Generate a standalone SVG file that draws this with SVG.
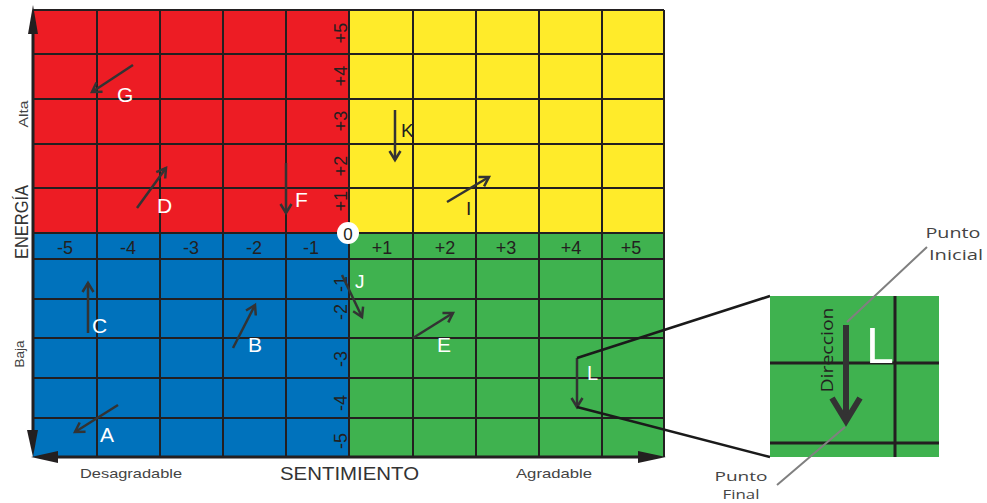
<svg xmlns="http://www.w3.org/2000/svg" width="987" height="503" viewBox="0 0 987 503">
<style>
.grid{stroke:#231f20;stroke-width:2;fill:none}
.axis{stroke:#231f20;stroke-width:3;fill:none}
.arr{stroke:#333;stroke-width:2.5;fill:none;marker-end:url(#head)}
.num{font-family:"Liberation Sans",Arial,sans-serif;font-size:18px;fill:#231f20;text-anchor:middle}
.lbl{font-family:"Liberation Sans",Arial,sans-serif;font-size:21px;fill:#fff}
.dk{fill:#231f20}
.small{font-family:"Liberation Sans",Arial,sans-serif;font-size:13px;fill:#444}
.big{font-family:"Liberation Sans",Arial,sans-serif;font-size:19px;fill:#333}
.note{font-family:"Open Sans","Liberation Sans",sans-serif;font-size:15px;fill:#444}
.note2{font-family:"Open Sans","Liberation Sans",sans-serif;font-size:13px;fill:#444}
</style>
<defs>
<marker id="head" markerUnits="userSpaceOnUse" markerWidth="14" markerHeight="14" refX="11" refY="7" orient="auto" viewBox="0 0 14 14">
<path d="M2,1.5 L11,7 L2,12.5" fill="none" stroke="#333" stroke-width="2.5"/>
</marker>
</defs>
<rect width="987" height="503" fill="#fff"/>
<g id="quadrants">
<rect x="33" y="10" width="316" height="223" fill="#ed1c24"/>
<rect x="349" y="10" width="315" height="223" fill="#ffeb2a"/>
<rect x="33" y="233" width="316" height="224" fill="#0072bc"/>
<rect x="349" y="233" width="315" height="224" fill="#3fb24f"/>
</g>
<g id="grid" class="grid">
<path d="M33,10H664M33,54H664M33,99H664M33,144H664M33,188H664M33,233H664M33,259H664M33,299H664M33,338H664M33,378H664M33,418H664"/>
<path d="M97,10V457M160,10V457M223,10V457M286,10V457M349,10V457M413,10V457M476,10V457M539,10V457M602,10V457M664,10V457"/>
</g>
<g id="axes">
<path class="axis" d="M33,28V440M50,457H646"/>
<polygon points="33,5 28,34 38,34" fill="#231f20"/>
<polygon points="33,457 27,430 38,430" fill="#231f20"/>
<polygon points="31,457 58,451 58,463" fill="#231f20"/>
<polygon points="666,457 638,451 638,463" fill="#231f20"/>
</g>
<g id="axis-numbers">
<text class="num" x="65" y="254">-5</text>
<text class="num" x="128" y="254">-4</text>
<text class="num" x="191" y="254">-3</text>
<text class="num" x="254" y="254">-2</text>
<text class="num" x="311" y="254">-1</text>
<text class="num" x="382" y="254">+1</text>
<text class="num" x="445" y="254">+2</text>
<text class="num" x="506" y="254">+3</text>
<text class="num" x="571" y="254">+4</text>
<text class="num" x="631" y="254">+5</text>
<text class="num" transform="translate(347,33) rotate(-90)">+5</text>
<text class="num" transform="translate(347,76) rotate(-90)">+4</text>
<text class="num" transform="translate(347,121) rotate(-90)">+3</text>
<text class="num" transform="translate(347,166) rotate(-90)">+2</text>
<text class="num" transform="translate(347,201) rotate(-90)">+1</text>
<text class="num" transform="translate(347,284) rotate(-90)">-1</text>
<text class="num" transform="translate(347,312) rotate(-90)">-2</text>
<text class="num" transform="translate(347,359) rotate(-90)">-3</text>
<text class="num" transform="translate(347,403) rotate(-90)">-4</text>
<text class="num" transform="translate(347,441) rotate(-90)">-5</text>
</g>
<g id="origin">
<circle cx="348" cy="233" r="11" fill="#fff"/>
<text class="num" x="348" y="240" style="font-size:17px">0</text>
</g>
<g id="axis-titles">
<text class="big" transform="translate(28,222) rotate(-90)" text-anchor="middle" textLength="74" lengthAdjust="spacingAndGlyphs">ENERGÍA</text>
<text class="small" transform="translate(28,114) rotate(-90)" text-anchor="middle" textLength="27" lengthAdjust="spacingAndGlyphs">Alta</text>
<text class="small" transform="translate(24,354) rotate(-90)" text-anchor="middle" textLength="27" lengthAdjust="spacingAndGlyphs">Baja</text>
<text class="big" x="280" y="480" textLength="139" lengthAdjust="spacingAndGlyphs">SENTIMIENTO</text>
<text class="small" x="80" y="478" textLength="102" lengthAdjust="spacingAndGlyphs">Desagradable</text>
<text class="small" x="516" y="478" textLength="76" lengthAdjust="spacingAndGlyphs">Agradable</text>
</g>
<g id="connectors">
<line class="arr" x1="133" y1="65" x2="92" y2="92"/>
<line class="arr" x1="137" y1="208" x2="166" y2="168"/>
<line class="arr" x1="286" y1="163" x2="286" y2="213"/>
<line class="arr" x1="395" y1="110" x2="395" y2="160"/>
<line class="arr" x1="447" y1="202" x2="489" y2="177"/>
<line class="arr" x1="88" y1="333" x2="88" y2="283"/>
<line class="arr" x1="233" y1="348" x2="255" y2="305"/>
<line class="arr" x1="118" y1="405" x2="75" y2="432"/>
<line class="arr" x1="342" y1="275" x2="362" y2="317"/>
<line class="arr" x1="413" y1="338" x2="453" y2="313"/>
<line class="arr" x1="577" y1="358" x2="577" y2="407"/>
<path d="M577,358L770,296M577,407L770,457" stroke="#1a1a1a" stroke-width="2.5" fill="none"/>
</g>
<g id="labels">
<text class="lbl" x="117" y="102">G</text>
<text class="lbl" x="157" y="213">D</text>
<text class="lbl" x="295" y="207">F</text>
<text class="lbl dk" x="401" y="137" style="font-size:19px">K</text>
<text class="lbl dk" x="466" y="215" style="font-size:19px">I</text>
<text class="lbl" x="92" y="333">C</text>
<text class="lbl" x="248" y="352">B</text>
<text class="lbl" x="100" y="442">A</text>
<text class="lbl" x="355" y="288" style="font-size:19px">J</text>
<text class="lbl" x="437" y="352">E</text>
<text class="lbl" x="587" y="380" style="font-size:20px">L</text>
</g>
<g id="inset">
<rect x="770" y="296" width="169" height="161" fill="#3fb24f"/>
<path d="M895,296V457M770,363H939M770,443H939" stroke="#231f20" stroke-width="3" fill="none"/>
<text x="866" y="363" fill="#fff" style="font-family:'Liberation Sans',Arial,sans-serif;font-size:50px">L</text>
<path d="M846,325V419" stroke="#333" stroke-width="6" fill="none"/>
<polyline points="832,398 846,421 860,398" stroke="#333" stroke-width="6" fill="none" stroke-linejoin="miter"/>
<text transform="translate(833,350) rotate(-90)" text-anchor="middle" textLength="85" lengthAdjust="spacingAndGlyphs" style="font-family:'Open Sans','Liberation Sans',sans-serif;font-size:17px;fill:#231f20">Direccion</text>
</g>
<g id="callouts">
<path d="M927,247L847,322M777,485L845,427" stroke="#808080" stroke-width="2" fill="none"/>
<text class="note" x="953" y="238" text-anchor="middle" textLength="55" lengthAdjust="spacingAndGlyphs">Punto</text>
<text class="note" x="956" y="260" text-anchor="middle" textLength="54" lengthAdjust="spacingAndGlyphs">Inicial</text>
<text class="note2" x="741" y="481" text-anchor="middle" textLength="53" lengthAdjust="spacingAndGlyphs">Punto</text>
<text class="note2" x="741" y="499" text-anchor="middle" textLength="37" lengthAdjust="spacingAndGlyphs">Final</text>
</g>
</svg>
